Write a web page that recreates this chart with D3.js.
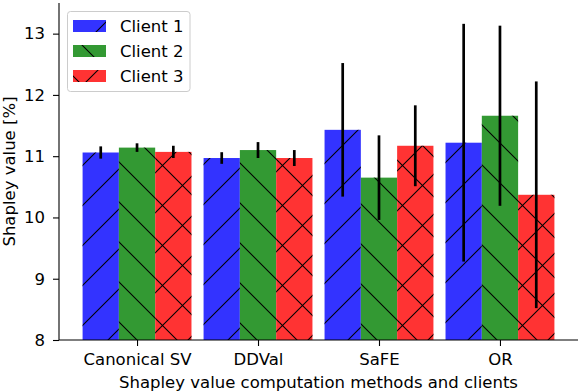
<!DOCTYPE html>
<html>
<head>
<meta charset="utf-8">
<script src="https://cdn.jsdelivr.net/npm/d3@7"></script>
<style>
  body { margin: 0; background: #fff; }
  svg { display: block; font-family: "DejaVu Sans", sans-serif; }
</style>
</head>
<body>
<svg id="chart" width="580" height="392"></svg>
<script>
// data
const methods = ["Canonical SV", "DDVal", "SaFE", "OR"];
const clients = ["Client 1", "Client 2", "Client 3"];
const client1 = [11.06, 10.97, 11.43, 11.22];
const client1Err = [0.10, 0.095, 1.09, 1.94];
const client2 = [11.14, 11.10, 10.65, 11.66];
const client2Err = [0.07, 0.13, 0.69, 1.47];
const client3 = [11.07, 10.97, 11.17, 10.37];
const client3Err = [0.10, 0.13, 0.66, 1.85];
const yTicks = [8, 9, 10, 11, 12, 13];

let series = [
    {name: clients[0], values: client1, errs: client1Err, color: "#3333ff", hatch: "hatchNE"},
    {name: clients[1], values: client2, errs: client2Err, color: "#339933", hatch: "hatchNW"},
    {name: clients[2], values: client3, errs: client3Err, color: "#ff3333", hatch: "hatchX"}
];

let svg = d3.select("#chart");
let axLeft = 59, axRight = 578, axTop = 3, axBottom = 340;
let barW = 0.3;
let fontSize = 16.5;

let xScale = d3.scaleLinear()
    .domain([-0.645, 3.645])
    .range([axLeft, axRight]);
let yScale = d3.scaleLinear()
    .domain([8, 13.5])
    .range([axBottom, axTop]);

// hatch patterns, anchored to the page like matplotlib does
let defs = svg.append("defs");
function hatch(id, lines) {
    let p = defs.append("pattern")
        .attr("id", id)
        .attr("patternUnits", "userSpaceOnUse")
        .attr("width", 40)
        .attr("height", 40);
    for (let l of lines) {
        p.append("line")
            .attr("x1", l[0]).attr("y1", l[1])
            .attr("x2", l[2]).attr("y2", l[3])
            .attr("stroke", "#000")
            .attr("stroke-width", 1.1);
    }
}
let ne = [[-5, 13, 13, -5], [5, 43, 43, 5]];
let nw = [[-5, -2, 45, 48], [35, -2, 45, 8], [-5, 38, 5, 48]];
hatch("hatchNE", ne);
hatch("hatchNW", nw);
hatch("hatchX", ne.concat(nw));

//draw bars
let barsG = svg.append("g");
series.forEach(function (s, k) {
    let g = barsG.append("g");
    let data = methods.map((m, i) => ({x: i + (k - 1) * barW, v: s.values[i], e: s.errs[i]}));
    g.selectAll("rect.fill")
        .data(data)
        .enter().append("rect")
        .attr("x", d => xScale(d.x - barW / 2))
        .attr("width", d => xScale(d.x + barW / 2) - xScale(d.x - barW / 2))
        .attr("y", d => yScale(d.v))
        .attr("height", d => yScale(8) - yScale(d.v))
        .attr("fill", s.color);
    g.selectAll("rect.hatch")
        .data(data)
        .enter().append("rect")
        .attr("x", d => xScale(d.x - barW / 2))
        .attr("width", d => xScale(d.x + barW / 2) - xScale(d.x - barW / 2))
        .attr("y", d => yScale(d.v))
        .attr("height", d => yScale(8) - yScale(d.v))
        .attr("fill", "url(#" + s.hatch + ")");
});

//draw error bars
series.forEach(function (s, k) {
    svg.append("g").selectAll("line")
        .data(methods.map((m, i) => ({x: i + (k - 1) * barW, v: s.values[i], e: s.errs[i]})))
        .enter().append("line")
        .attr("x1", d => xScale(d.x))
        .attr("x2", d => xScale(d.x))
        .attr("y1", d => yScale(Math.max(8, d.v - d.e)))
        .attr("y2", d => yScale(d.v + d.e))
        .attr("stroke", "#000")
        .attr("stroke-width", 2.7);
});

//draw yAxis
let yAxis = d3.axisLeft(yScale)
    .tickValues(yTicks)
    .tickSize(6)
    .tickPadding(8)
    .tickFormat(d3.format("d"));
let yG = svg.append("g")
    .attr("transform", "translate(" + axLeft + ",0)")
    .call(yAxis);
yG.select(".domain").attr("d", "M0," + axTop + "V" + axBottom).attr("stroke-width", 1.1);
yG.selectAll(".tick line").attr("stroke-width", 1.1);
yG.selectAll("text").attr("font-size", fontSize).attr("fill", "#000").attr("font-family", "DejaVu Sans");

//draw xAxis
let xAxis = d3.axisBottom(xScale)
    .tickValues([0, 1, 2, 3])
    .tickSize(6)
    .tickPadding(7)
    .tickFormat(i => methods[i]);
let xG = svg.append("g")
    .attr("transform", "translate(0," + axBottom + ")")
    .call(xAxis);
xG.select(".domain").attr("d", "M" + axLeft + ",0H" + axRight).attr("stroke-width", 1.1);
xG.selectAll(".tick line").attr("stroke-width", 1.1);
xG.selectAll("text").attr("font-size", fontSize).attr("fill", "#000").attr("font-family", "DejaVu Sans");

//axis labels
svg.append("text")
    .attr("x", (axLeft + axRight) / 2)
    .attr("y", 388)
    .attr("text-anchor", "middle")
    .attr("font-size", fontSize)
    .text("Shapley value computation methods and clients");
svg.append("text")
    .attr("transform", "translate(15," + (axTop + axBottom) / 2 + ") rotate(-90)")
    .attr("text-anchor", "middle")
    .attr("font-size", fontSize)
    .text("Shapley value [%]");

//legend
let legend = svg.append("g");
legend.append("rect")
    .attr("x", 67.5).attr("y", 11.5)
    .attr("width", 122.5).attr("height", 80)
    .attr("rx", 3)
    .attr("fill", "#fff")
    .attr("fill-opacity", 0.8)
    .attr("stroke", "#ccc");
let items = legend.selectAll("g.item")
    .data(series)
    .enter().append("g");
items.append("rect")
    .attr("x", 73).attr("y", (d, i) => 20 + i * 25)
    .attr("width", 33).attr("height", 12)
    .attr("fill", d => d.color);
items.append("rect")
    .attr("x", 73).attr("y", (d, i) => 20 + i * 25)
    .attr("width", 33).attr("height", 12)
    .attr("fill", d => "url(#" + d.hatch + ")");
items.append("text")
    .attr("x", 120).attr("y", (d, i) => 31.7 + i * 25)
    .attr("font-size", fontSize)
    .text(d => d.name);
</script>
</body>
</html>
